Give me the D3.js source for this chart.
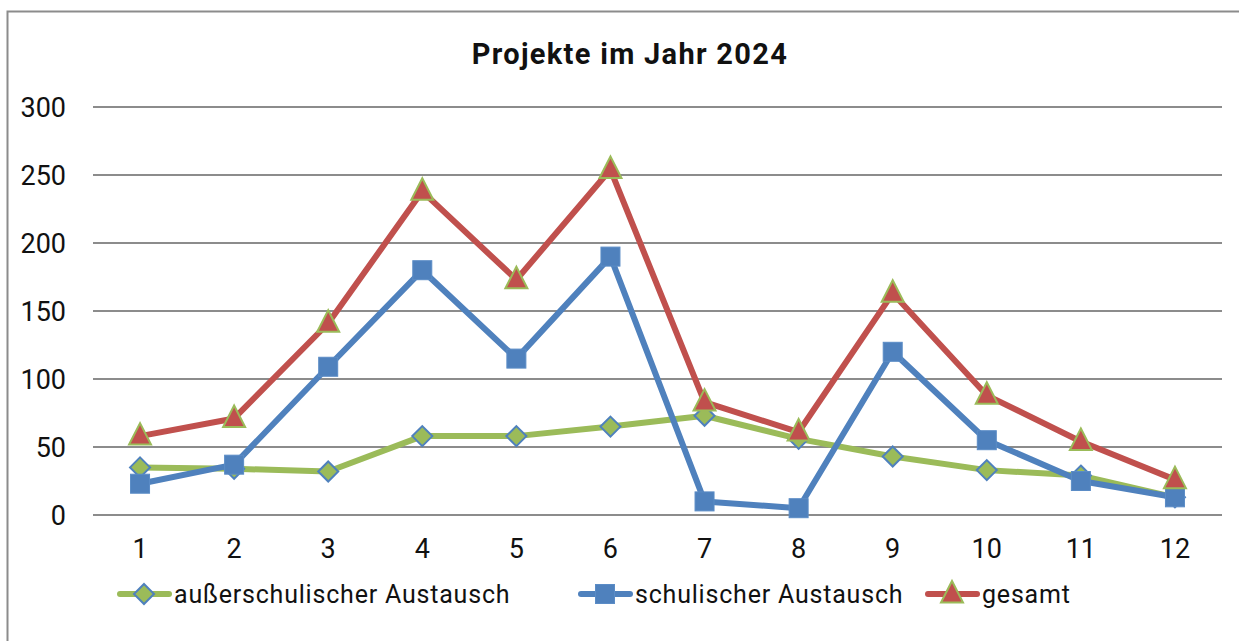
<!DOCTYPE html>
<html>
<head>
<meta charset="utf-8">
<script src="https://cdn.jsdelivr.net/npm/d3@7"></script>
<style>
  body { margin: 0; background: #fff; }
  text { font-family: Roboto, "DejaVu Sans", sans-serif; fill: #111; }
</style>
</head>
<body>
<svg id="chart" width="1239" height="641"></svg>
<script>
const months = ['1', '2', '3', '4', '5', '6', '7', '8', '9', '10', '11', '12']
const ausserschulisch = [35, 34, 32, 58, 58, 65, 73, 56, 43, 33, 29, 13]
const schulisch = [23, 37, 109, 180, 115, 190, 10, 5, 120, 55, 25, 13]
const gesamt = [58, 71, 141, 238, 173, 254, 83, 61, 163, 88, 54, 26]
const yTicks = [0, 50, 100, 150, 200, 250, 300]

const series = [
  { name: 'außerschulischer Austausch', values: ausserschulisch, color: '#9BBB59', marker: 'diamond' },
  { name: 'schulischer Austausch', values: schulisch, color: '#4F81BD', marker: 'square' },
  { name: 'gesamt', values: gesamt, color: '#C0504D', marker: 'triangle' }
]

const svg = d3.select('#chart')

// outer frame
svg.append('rect')
  .attr('x', 7.5).attr('y', 11.5)
  .attr('width', 1260).attr('height', 660)
  .attr('fill', 'none').attr('stroke', '#8c8c8c').attr('stroke-width', 2)

const plot = { left: 93, right: 1222, top: 107, bottom: 515 }

const x = d3.scaleBand().domain(months).range([plot.left, plot.right])
const y = d3.scaleLinear().domain([0, 300]).range([plot.bottom, plot.top])
const cx = (i) => x(months[i]) + x.bandwidth() / 2

// title
svg.append('text')
  .attr('x', 630).attr('y', 64)
  .attr('text-anchor', 'middle')
  .style('font-size', '29px').style('font-weight', 'bold')
  .style('letter-spacing', '1.3px')
  .text('Projekte im Jahr 2024')

// grid lines
svg.append('g')
  .selectAll('line')
  .data(yTicks)
  .join('line')
  .attr('x1', plot.left).attr('x2', plot.right)
  .attr('y1', (d) => y(d)).attr('y2', (d) => y(d))
  .attr('stroke', '#8c8c8c').attr('stroke-width', 2)

// y labels
svg.append('g')
  .selectAll('text')
  .data(yTicks)
  .join('text')
  .attr('x', 66).attr('y', (d) => y(d) + 10)
  .attr('text-anchor', 'end')
  .style('font-size', '27px')
  .text((d) => d)

// x labels
svg.append('g')
  .selectAll('text')
  .data(months)
  .join('text')
  .attr('x', (d, i) => cx(i)).attr('y', 558)
  .attr('text-anchor', 'middle')
  .style('font-size', '27px')
  .text((d) => d)

const drawMarker = (g, type) => {
  if (type === 'diamond') {
    g.append('path').attr('d', 'M0,-10L10,0L0,10L-10,0Z')
      .attr('fill', '#9BBB59').attr('stroke', '#4F81BD').attr('stroke-width', 2)
  } else if (type === 'square') {
    g.append('rect').attr('x', -9.5).attr('y', -9.5).attr('width', 19).attr('height', 19)
      .attr('fill', '#4F81BD').attr('stroke', '#5b8cc6').attr('stroke-width', 1)
  } else {
    g.append('path').attr('d', 'M0,-13L11,8.5L-11,8.5Z')
      .attr('fill', '#C0504D').attr('stroke', '#9BBB59').attr('stroke-width', 2)
  }
}

const line = d3.line().x((d, i) => cx(i)).y((d) => y(d))

series.forEach((s) => {
  const g = svg.append('g')
  g.append('path')
    .datum(s.values)
    .attr('d', line)
    .attr('fill', 'none')
    .attr('stroke', s.color)
    .attr('stroke-width', 6)
    .attr('stroke-linejoin', 'round')
    .attr('stroke-linecap', 'round')
  s.values.forEach((v, i) => {
    drawMarker(g.append('g').attr('transform', `translate(${cx(i)},${y(v)})`), s.marker)
  })
})

// legend
const legendX = [120, 581, 928]
series.forEach((s, i) => {
  const g = svg.append('g').attr('transform', `translate(${legendX[i]},594)`)
  g.append('line')
    .attr('x1', 0).attr('x2', 49)
    .attr('stroke', s.color).attr('stroke-width', 6).attr('stroke-linecap', 'round')
  drawMarker(g.append('g').attr('transform', 'translate(24,0)'), s.marker)
  g.append('text')
    .attr('x', 54).attr('y', 9)
    .style('font-size', '25px')
    .style('letter-spacing', '0.8px')
    .text(s.name)
})
</script>
</body>
</html>
